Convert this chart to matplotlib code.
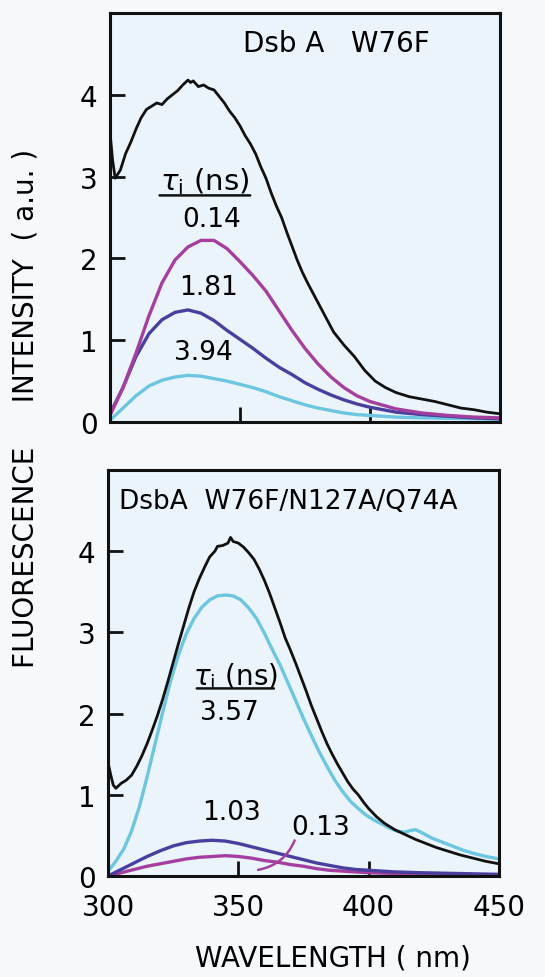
import numpy as np
import matplotlib
matplotlib.use('Agg')
import matplotlib.pyplot as plt

# --------------------------------------------------
# data
# --------------------------------------------------
# top panel: Dsb A W76F
top_total_wl = [300, 301, 302, 304, 306, 308, 310, 312, 314, 316, 318, 320, 322, 324, 326, 328,
                330, 331, 332, 334, 336, 338, 340, 342, 344, 346, 348, 350, 352, 354, 356, 358,
                360, 362, 364, 366, 368, 370, 372, 374, 376, 378, 380, 383, 386, 390, 394, 398,
                402, 406, 410, 415, 420, 425, 430, 435, 440, 445, 450]
top_total = [3.55, 3.20, 2.98, 3.08, 3.28, 3.42, 3.58, 3.72, 3.82, 3.86, 3.90, 3.88, 3.95, 4.00, 4.05, 4.12,
             4.18, 4.15, 4.17, 4.10, 4.12, 4.08, 4.06, 3.98, 3.90, 3.80, 3.72, 3.62, 3.50, 3.40, 3.28, 3.12,
             2.98, 2.80, 2.64, 2.50, 2.32, 2.15, 1.98, 1.83, 1.70, 1.58, 1.46, 1.28, 1.10, 0.94, 0.80, 0.63,
             0.50, 0.42, 0.36, 0.31, 0.28, 0.25, 0.21, 0.17, 0.15, 0.12, 0.10]

top_comp_wl = [300, 305, 310, 315, 320, 325, 330, 335, 340, 345, 350, 355, 360, 365, 370, 375,
               380, 385, 390, 395, 400, 410, 420, 430, 440, 450]
top_014 = [0.08, 0.42, 0.84, 1.30, 1.70, 1.98, 2.14, 2.22, 2.22, 2.12, 1.96, 1.79, 1.60, 1.36, 1.12, 0.90,
           0.71, 0.55, 0.42, 0.32, 0.25, 0.16, 0.11, 0.08, 0.06, 0.05]
top_181 = [0.10, 0.42, 0.80, 1.08, 1.25, 1.34, 1.37, 1.33, 1.24, 1.12, 1.01, 0.90, 0.78, 0.67, 0.58, 0.48,
           0.40, 0.33, 0.27, 0.22, 0.18, 0.12, 0.09, 0.07, 0.05, 0.04]
top_394 = [0.02, 0.17, 0.32, 0.44, 0.51, 0.55, 0.57, 0.56, 0.53, 0.50, 0.46, 0.42, 0.37, 0.31, 0.26, 0.21,
           0.17, 0.14, 0.11, 0.09, 0.08, 0.06, 0.05, 0.045, 0.04, 0.03]

# bottom panel: DsbA W76F/N127A/Q74A
bot_total_wl = [300, 301, 302, 303, 305, 307, 309, 311, 313, 315, 317, 319, 321, 323, 325, 327, 329,
                331, 333, 335, 337, 339, 341, 342, 344, 346, 347, 348, 350, 352, 354, 356, 358, 360,
                362, 364, 366, 368, 370, 372, 374, 376, 378, 380, 382, 384, 386, 388, 390, 392, 394,
                396, 398, 400, 403, 406, 410, 414, 418, 422, 426, 430, 435, 440, 445, 450]
bot_total = [1.40, 1.25, 1.12, 1.08, 1.14, 1.18, 1.24, 1.35, 1.48, 1.63, 1.80, 1.98, 2.18, 2.40, 2.63, 2.86, 3.08,
             3.30, 3.50, 3.66, 3.80, 3.93, 4.00, 4.06, 4.07, 4.10, 4.17, 4.12, 4.10, 4.05, 3.98, 3.90, 3.78, 3.64,
             3.48, 3.30, 3.12, 2.93, 2.78, 2.62, 2.45, 2.28, 2.10, 1.94, 1.78, 1.63, 1.50, 1.38, 1.27, 1.16, 1.07,
             1.00, 0.91, 0.83, 0.73, 0.65, 0.57, 0.51, 0.45, 0.40, 0.35, 0.31, 0.26, 0.22, 0.18, 0.15]

bot_357_wl = [300, 303, 306, 309, 312, 315, 318, 321, 324, 327, 330, 333, 336, 339, 342, 345, 348,
              351, 354, 357, 360, 363, 366, 369, 372, 375, 378, 381, 384, 387, 390, 393, 396, 399,
              402, 405, 408, 411, 414, 416, 418, 420, 424, 428, 432, 436, 440, 445, 450]
bot_357 = [0.06, 0.18, 0.33, 0.55, 0.85, 1.22, 1.62, 2.02, 2.40, 2.72, 2.98, 3.17, 3.31, 3.40, 3.45, 3.46, 3.45,
           3.40, 3.30, 3.17, 2.99, 2.79, 2.60, 2.38, 2.16, 1.94, 1.73, 1.53, 1.35, 1.18, 1.04, 0.92, 0.83, 0.75,
           0.69, 0.64, 0.59, 0.55, 0.54, 0.56, 0.57, 0.54, 0.47, 0.42, 0.37, 0.32, 0.28, 0.24, 0.21]

bot_comp_wl = [300, 305, 310, 315, 320, 325, 330, 335, 340, 345, 350, 355, 360, 365, 370, 375,
               380, 385, 390, 395, 400, 410, 420, 435, 450]
bot_103 = [0.00, 0.08, 0.16, 0.24, 0.31, 0.37, 0.41, 0.43, 0.44, 0.43, 0.40, 0.36, 0.32, 0.28, 0.24, 0.20,
           0.16, 0.13, 0.10, 0.08, 0.07, 0.05, 0.04, 0.03, 0.02]
bot_013 = [0.00, 0.04, 0.08, 0.12, 0.15, 0.18, 0.21, 0.23, 0.24, 0.25, 0.24, 0.22, 0.19, 0.17, 0.14, 0.12,
           0.09, 0.07, 0.06, 0.05, 0.04, 0.03, 0.02, 0.015, 0.01]

x_ticks = [300, 350, 400, 450]
y_ticks = [0, 1, 2, 3, 4]

# --------------------------------------------------
# style
# --------------------------------------------------
plt.rcParams['font.family'] = ['DejaVu Sans']
plt.rcParams['mathtext.fontset'] = 'dejavusans'

c_black = '#111111'
c_mag = '#a53f9f'
c_blue = '#4a3f9e'
c_cyan = '#6cc6e0'
bg_ax = '#ebf4fb'
bg_fig = '#f6f9fc'

fig = plt.figure(figsize=(5.45, 9.78), dpi=100, facecolor=bg_fig)
ax1 = fig.add_axes([0.2018, 0.5675, 0.7156, 0.4182])
ax2 = fig.add_axes([0.1982, 0.1033, 0.7174, 0.4151])

for ax in (ax1, ax2):
    ax.set_facecolor(bg_ax)
    ax.set_xlim(300, 450)
    ax.set_ylim(0, 5.0)
    ax.set_xticks(x_ticks)
    ax.set_yticks(y_ticks)
    ax.tick_params(direction='in', length=11, width=2.0, labelsize=20, color=c_black)
    ax.tick_params(axis='y', pad=9)
    ax.tick_params(axis='x', pad=12)
    for s in ax.spines.values():
        s.set_linewidth(2.2)
        s.set_color(c_black)
ax1.tick_params(axis='x', labelbottom=False)

# top panel
ax1.plot(top_comp_wl, top_394, color=c_cyan, lw=2.4)
ax1.plot(top_comp_wl, top_181, color=c_blue, lw=2.4)
ax1.plot(top_comp_wl, top_014, color=c_mag, lw=2.4)
ax1.plot(top_total_wl, top_total, color=c_black, lw=2.0)

ax1.text(387, 4.63, 'Dsb A   W76F', fontsize=20, ha='center', va='center')
ax1.text(336.5, 2.95, r'$\tau_\mathrm{i}$ (ns)', fontsize=21, ha='center', va='center')
ax1.annotate('', xy=(355, 2.77), xytext=(318, 2.77),
             arrowprops=dict(arrowstyle='-', lw=1.8, color=c_black))
ax1.text(339, 2.48, '0.14', fontsize=19, ha='center', va='center')
ax1.text(337.7, 1.65, '1.81', fontsize=19, ha='center', va='center')
ax1.text(336, 0.86, '3.94', fontsize=19, ha='center', va='center')

# bottom panel
ax2.plot(bot_comp_wl, bot_013, color=c_mag, lw=2.4)
ax2.plot(bot_comp_wl, bot_103, color=c_blue, lw=2.4)
ax2.plot(bot_357_wl, bot_357, color=c_cyan, lw=2.4)
ax2.plot(bot_total_wl, bot_total, color=c_black, lw=2.0)

ax2.text(369, 4.62, 'DsbA  W76F/N127A/Q74A', fontsize=19, ha='center', va='center')
ax2.text(349, 2.47, r'$\tau_\mathrm{i}$ (ns)', fontsize=20, ha='center', va='center')
ax2.annotate('', xy=(364.7, 2.31), xytext=(333, 2.31),
             arrowprops=dict(arrowstyle='-', lw=1.8, color=c_black))
ax2.text(346.7, 2.02, '3.57', fontsize=19, ha='center', va='center')
ax2.text(347.5, 0.79, '1.03', fontsize=19, ha='center', va='center')
ax2.text(381.5, 0.60, '0.13', fontsize=19, ha='center', va='center')
ax2.annotate('', xy=(356.5, 0.07), xytext=(372, 0.47),
             arrowprops=dict(arrowstyle='-', lw=1.8, color=c_mag,
                             connectionstyle='arc3,rad=-0.3'))

# axis titles
fig.text(0.046, 0.582, 'FLUORESCENCE     INTENSITY  ( a.u. )', rotation=90,
         fontsize=20, ha='center', va='center')
fig.text(0.611, 0.02, 'WAVELENGTH ( nm)', fontsize=20, ha='center', va='center')

fig.savefig('out.png', dpi=100, facecolor=bg_fig)
